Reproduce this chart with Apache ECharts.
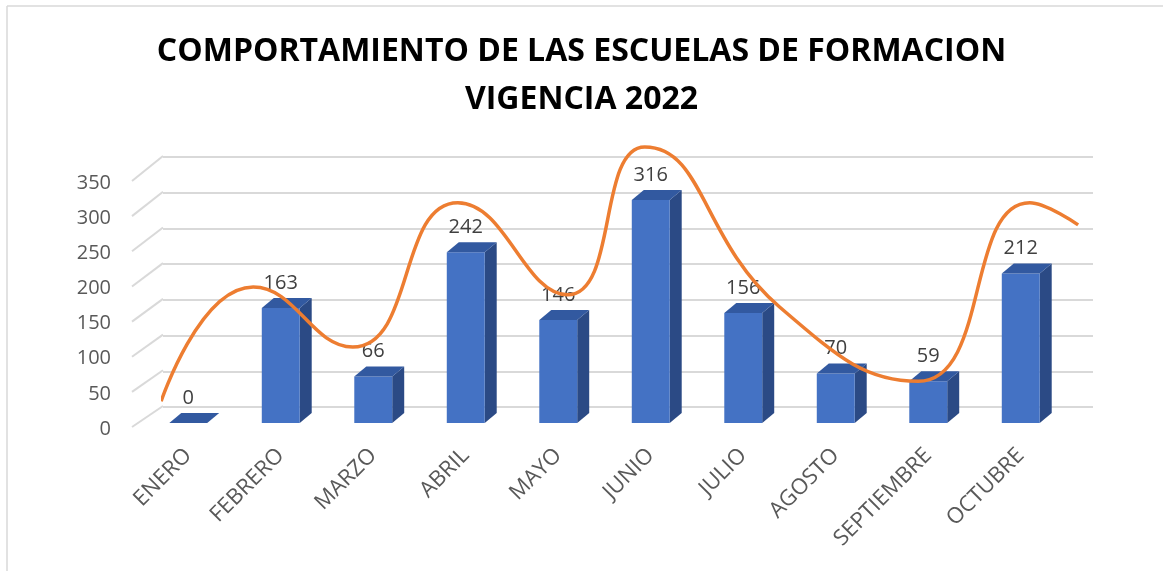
<!DOCTYPE html>
<html>
<head>
<meta charset="utf-8">
<script src="https://cdn.jsdelivr.net/npm/echarts@6/dist/echarts.min.js"></script>
<style>
  html, body { margin: 0; padding: 0; background: #fff; }
  #chart { width: 1163px; height: 571px; }
</style>
</head>
<body>
<div id="chart"></div>
<script>
// datos
var meses = ['ENERO', 'FEBRERO', 'MARZO', 'ABRIL', 'MAYO', 'JUNIO', 'JULIO', 'AGOSTO', 'SEPTIEMBRE', 'OCTUBRE']
var valores = [0, 163, 66, 242, 146, 316, 156, 70, 59, 212]
var ticksY = [0, 50, 100, 150, 200, 250, 300, 350]
// curva naranja (posicion en meses, valor)
var curvaX = [-0.52, 0.47, 1.54, 2.67, 3.85, 4.68, 6.13, 7.62, 8.82, 9.34]
var curvaY = [8, 168, 84, 286, 157, 364, 140, 36, 286, 255]

var fuente = '"Open Sans", "Noto Sans", sans-serif'
var myChart = echarts.init(document.getElementById('chart'))

// barra con cara frontal, lateral y superior
function barra3d (params, api) {
  var top = api.coord([api.value(0), api.value(1)])
  var base = api.coord([api.value(0), 0])
  var w = api.size([1, 0])[0] * 0.41
  var dx = 12
  var dy = -10
  var l = top[0] - w / 2
  var r = top[0] + w / 2
  return {
    type: 'group',
    children: [
      {
        type: 'polygon',
        shape: { points: [[r, top[1]], [r + dx, top[1] + dy], [r + dx, base[1] + dy], [r, base[1]]] },
        style: { fill: '#2B4A85' }
      },
      {
        type: 'rect',
        shape: { x: l, y: top[1], width: w, height: base[1] - top[1] },
        style: { fill: '#4472C4' }
      },
      {
        type: 'polygon',
        shape: { points: [[l, top[1]], [l + dx, top[1] + dy], [r + dx, top[1] + dy], [r, top[1]]] },
        style: { fill: '#3259A0' }
      },
      {
        type: 'text',
        style: {
          x: top[0], y: top[1] - 25, text: String(api.value(1)),
          align: 'center', verticalAlign: 'middle',
          fill: '#404040', font: '20px ' + fuente
        }
      }
    ]
  }
}

// lineas diagonales de la pared izquierda
function pared (params, api) {
  var v = api.value(0)
  var p = api.coord([0, v])
  return {
    type: 'line',
    shape: { x1: p[0], y1: p[1] - 2, x2: p[0] + 31, y2: p[1] - 23 - v * 4 / 350 },
    style: { stroke: '#D9D9D9', lineWidth: 2 }
  }
}

var option = {
  animation: false,
  backgroundColor: '#fff',
  title: {
    text: 'COMPORTAMIENTO DE LAS ESCUELAS DE FORMACION\nVIGENCIA 2022',
    left: 'center',
    top: 23,
    padding: [5, 5, 5, 17],
    textStyle: {
      fontFamily: fuente,
      fontWeight: 'bold',
      fontSize: 32,
      lineHeight: 48,
      color: '#000'
    }
  },
  graphic: [
    { type: 'line', shape: { x1: 7, y1: 6, x2: 1163, y2: 6 }, style: { stroke: '#D9D9D9', lineWidth: 1.5 } },
    { type: 'line', shape: { x1: 7, y1: 6, x2: 7, y2: 571 }, style: { stroke: '#D9D9D9', lineWidth: 1.5 } }
  ],
  grid: [
    { left: 142, right: 96, top: 176, bottom: 148 },
    { left: 163, right: 70, top: 157, bottom: 164 },
    { left: 132, width: 10, top: 183, bottom: 142 }
  ],
  xAxis: [
    {
      type: 'category',
      gridIndex: 0,
      data: meses,
      axisLine: { show: false },
      axisTick: { show: false },
      axisLabel: {
        rotate: 45,
        margin: 29,
        interval: 0,
        fontFamily: fuente,
        fontSize: 22,
        color: '#595959'
      }
    },
    { type: 'value', gridIndex: 1, min: -0.5, max: 9.5, show: false },
    { type: 'value', gridIndex: 2, min: 0, max: 1, show: false }
  ],
  yAxis: [
    { type: 'value', gridIndex: 0, min: 0, max: 350, interval: 50, show: false },
    {
      type: 'value',
      gridIndex: 1,
      min: 0,
      max: 350,
      interval: 50,
      axisLine: { show: false },
      axisTick: { show: false },
      axisLabel: { show: false },
      splitLine: { lineStyle: { color: '#D9D9D9', width: 2 } }
    },
    {
      type: 'value',
      gridIndex: 2,
      min: 0,
      max: 350,
      interval: 50,
      axisLine: { show: false },
      axisTick: { show: false },
      splitLine: { show: false },
      axisLabel: { margin: 21, fontFamily: fuente, fontSize: 20, color: '#595959' }
    }
  ],
  series: [
    {
      type: 'custom',
      xAxisIndex: 2,
      yAxisIndex: 2,
      renderItem: pared,
      data: ticksY.map(function (v) { return [v] }),
      encode: { y: 0 },
      z: 1
    },
    {
      type: 'custom',
      xAxisIndex: 0,
      yAxisIndex: 0,
      renderItem: barra3d,
      data: valores.map(function (v, i) { return [i, v] }),
      z: 3
    },
    {
      type: 'line',
      xAxisIndex: 1,
      yAxisIndex: 1,
      smooth: 0.5,
      clip: false,
      showSymbol: false,
      data: curvaX.map(function (x, i) { return [x, curvaY[i]] }),
      lineStyle: { color: '#ED7D31', width: 3.5 },
      z: 5
    }
  ]
}
myChart.setOption(option)
</script>
</body>
</html>
